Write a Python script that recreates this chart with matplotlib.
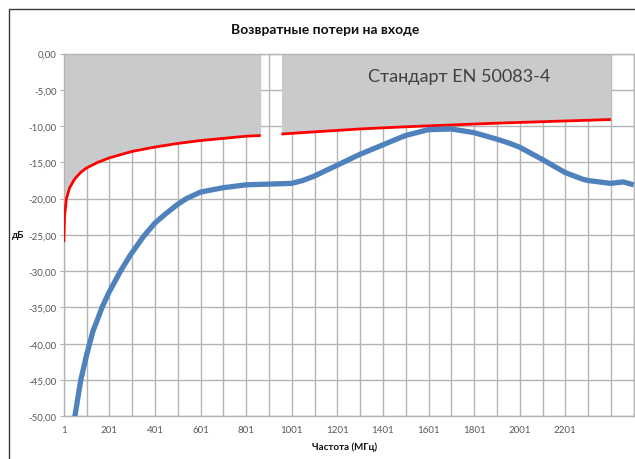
import matplotlib
matplotlib.use("Agg")
import matplotlib.pyplot as plt
from matplotlib.patches import Rectangle

# ---- data ----
# standard limit (EN 50083-4), two segments
red1_f = [1, 5, 13, 27, 49, 75, 100, 150, 200, 300, 400, 500, 600, 700, 800, 865]
red1_db = [-26.0, -22.3, -20.0, -18.5, -17.3, -16.4, -15.8, -15.0, -14.4, -13.5,
           -12.9, -12.4, -12.0, -11.7, -11.4, -11.3]
red2_f = [956, 1100, 1300, 1500, 1700, 1900, 2100, 2300, 2401]
red2_db = [-11.1, -10.8, -10.4, -10.1, -9.85, -9.6, -9.4, -9.2, -9.1]

# measured input return loss
blue_f = [40, 50, 76, 101, 130, 150, 169, 200, 250, 295, 349, 400, 444, 500, 539, 601,
          650, 700, 800, 900, 1000, 1050, 1100, 1200, 1300, 1400, 1500, 1600, 1700,
          1800, 1900, 1950, 2000, 2100, 2200, 2275, 2300, 2400, 2455, 2501]
blue_db = [-53.0, -50.0, -45.0, -41.6, -38.2, -36.6, -35.0, -32.9, -30.0, -27.7, -25.3,
           -23.4, -22.2, -20.8, -20.0, -19.1, -18.8, -18.5, -18.1, -18.0, -17.9,
           -17.5, -16.9, -15.4, -13.9, -12.6, -11.3, -10.5, -10.4, -10.9, -11.8,
           -12.3, -12.9, -14.6, -16.4, -17.3, -17.5, -17.9, -17.7, -18.1]

x_ticks = list(range(1, 2502, 100))
x_labels = [str(t) if (t - 1) % 200 == 0 and t < 2400 else "" for t in x_ticks]
y_ticks = list(range(-50, 1, 5))
y_labels = [f"{v:.2f}".replace(".", ",") for v in y_ticks]

plt.rcParams["font.family"] = ["Lato", "Noto Sans", "DejaVu Sans"]

fig = plt.figure(figsize=(6.35, 4.6), dpi=100)
fig.patch.set_facecolor("white")

# chart frame (right/bottom cut off in the reference)
fig.patches.append(Rectangle((9 / 635, -0.05), 1.1, 1 - 10 / 460 + 0.05,
                             transform=fig.transFigure, fill=False,
                             edgecolor="#3a3a3a", linewidth=1.0))

ax = fig.add_axes([63.7 / 635, 1 - 417.3 / 460, 570 / 635, (417.3 - 54.5) / 460])

grid_c = "#b4b4b4"
ax.set_xlim(1, 2501)
ax.set_ylim(-50, 0)
ax.set_xticks(x_ticks, labels=x_labels)
ax.set_yticks(y_ticks, labels=y_labels)
ax.grid(True, color=grid_c, linewidth=1.0, zorder=0)
ax.set_axisbelow(True)
for s in ax.spines.values():
    s.set_color(grid_c)
    s.set_linewidth(1.0)
ax.tick_params(axis="y", length=3, color=grid_c, labelsize=7, labelcolor="#595959", pad=2)
ax.tick_params(axis="x", length=0, labelsize=7, labelcolor="#595959", pad=6)

# gray zone above the limit
ax.fill_between(red1_f, red1_db, 0, color="#c9cacc", linewidth=0, zorder=1)
ax.fill_between(red2_f, red2_db, 0, color="#c9cacc", linewidth=0, zorder=1)

ax.plot(red1_f, red1_db, color="#ff0000", linewidth=2.0, zorder=3, solid_capstyle="butt")
ax.plot(red2_f, red2_db, color="#ff0000", linewidth=2.0, zorder=3, solid_capstyle="butt")
ax.plot(blue_f, blue_db, color="#4f81bd", linewidth=3.8, zorder=4,
        solid_joinstyle="round", solid_capstyle="butt")

ax.text(1735, -3.1, "Стандарт EN 50083-4", fontsize=13, color="#404040",
        ha="center", va="center", zorder=5)

fig.text(325 / 635, 1 - 30 / 460, "Возвратные потери на входе", fontsize=10,
         fontweight="bold", ha="center", va="center", color="#111111")
fig.text(345 / 635, 1 - 447 / 460, "Частота (МГц)", fontsize=7,
         fontweight="bold", ha="center", va="center", color="#111111")
fig.text(18 / 635, 1 - 236 / 460, "дБ", fontsize=7,
         fontweight="bold", ha="center", va="center", color="#111111")

fig.savefig("out.png", dpi=100)
